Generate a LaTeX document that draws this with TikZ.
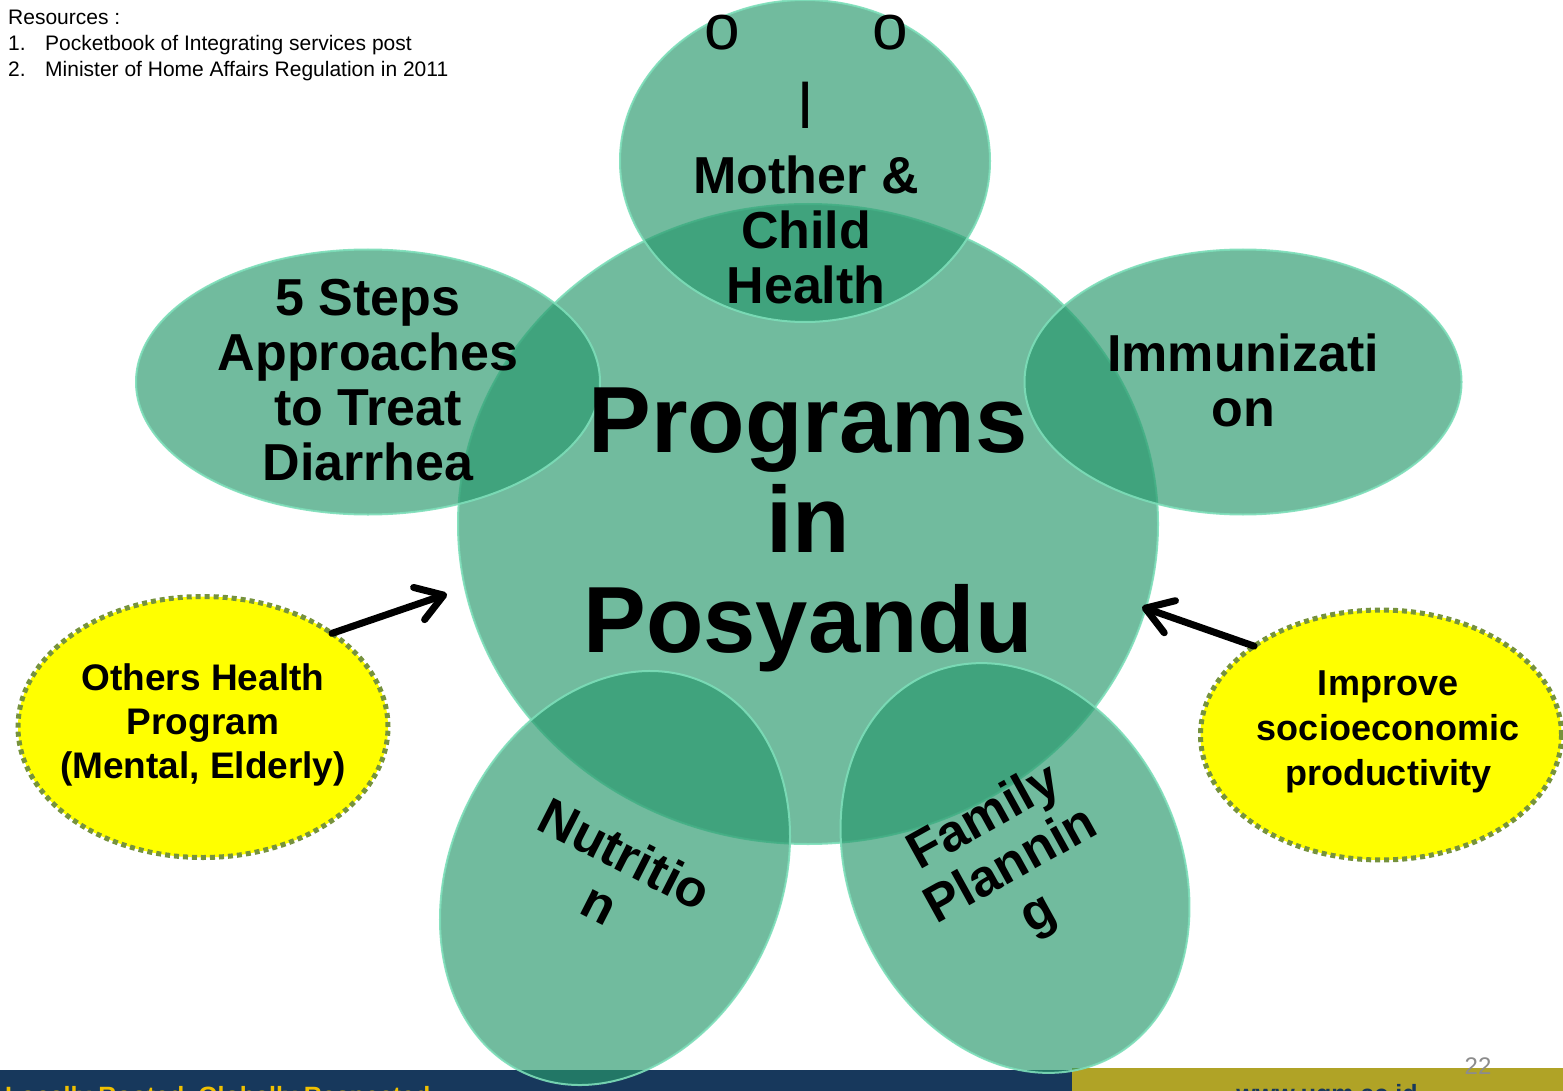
\documentclass[tikz,border=0pt]{standalone}
\usepackage{fontspec}
\setmainfont{Liberation Sans}
\usetikzlibrary{
    shapes.geometric,
    arrows.meta
}
\definecolor{posyandu green}{RGB}{40,152,108}
\definecolor{rim green}{RGB}{125,222,185}
\definecolor{note yellow}{RGB}{255,255,0}
\definecolor{note border}{RGB}{118,146,60}
\definecolor{ugm blue}{RGB}{23,56,92}
\definecolor{ugm gold}{RGB}{176,163,38}
\definecolor{motto yellow}{RGB}{240,192,0}
\definecolor{page gray}{RGB}{140,140,140}
\tikzset{%
    programme/.style={%
        ellipse,
        fill=posyandu green,
        fill opacity=0.66,
        draw=rim green,
        draw opacity=0.9,
        line width=2pt,
        inner sep = 0pt,
        outer sep = 0pt
    },
    side note/.style={%
        ellipse,
        fill=note yellow,
        draw=note border,
        line width=5pt,
        dash pattern=on 5pt off 4pt,
        inner sep = 0pt,
        outer sep = 0pt
    },
    programme text/.style={%
        inner sep = 0pt,
        align=center,
        font=\bfseries\fontsize{52}{55}\selectfont
    },
    note text/.style={%
        inner sep = 0pt,
        align=center,
        font=\bfseries\fontsize{37}{44}\selectfont
    },
    source text/.style={%
        inner sep = 0pt,
        anchor=base west,
        font=\fontsize{21}{26}\selectfont
    },
    push arrow/.style={%
        line width=7pt,
        line cap=round,
        -{Straight Barb[length=26pt, width=34pt, round]}
    },
}

\begin{document}
\begin{tikzpicture}[x=1pt, y=-1pt]
    \clip (0,0) rectangle (1563,1091);
    \fill[white] (0,0) rectangle (1563,1091);

    % footer
    \fill[ugm blue] (0,1070) rectangle (1072,1091);
    \fill[ugm gold] (1072,1068) rectangle (1563,1091);
    \node[inner sep=0pt, anchor=base west, text=motto yellow, font=\bfseries\fontsize{25}{25}\selectfont] (motto) at (5,1104) {Locally Rooted, Globally Respected};
    \node[inner sep=0pt, anchor=base, text=ugm blue, font=\bfseries\fontsize{25}{25}\selectfont] (site) at (1327,1102) {www.ugm.ac.id};
    \node[inner sep=0pt, text=page gray, font=\fontsize{24}{24}\selectfont] (page) at (1478,1066) {22};

    % sources
    \node[source text] (resources) at (8,25) {Resources :};
    \node[source text] (first num) at (8,51) {1.};
    \node[source text] (first src) at (45,51) {Pocketbook of Integrating services post};
    \node[source text] (second num) at (8,77) {2.};
    \node[source text] (second src) at (45,77) {Minister of Home Affairs Regulation in 2011};

    % programmes
    \node[programme, minimum width=700pt, minimum height=640pt] (programs) at (808,524) {};
    \node[programme, minimum width=370pt, minimum height=322pt] (mch) at (805,161) {};
    \node[programme, minimum width=464pt, minimum height=265pt] (diarrhea) at (368,382) {};
    \node[programme, minimum width=437pt, minimum height=265pt] (immunization) at (1243,382) {};
    \node[programme, minimum width=330pt, minimum height=430pt, rotate=-25] (nutrition) at (615,878) {};
    \node[programme, minimum width=330pt, minimum height=425pt, rotate=25] (family) at (1015,868) {};

    \node[programme text, font=\bfseries\fontsize{94}{100}\selectfont] (programs text) at (808,530) {Programs\\in\\Posyandu};
    \node[inner sep=0pt, font=\fontsize{64}{64}\selectfont] (mch o left) at (722,33) {o};
    \node[inner sep=0pt, font=\fontsize{64}{64}\selectfont] (mch o right) at (890,33) {o};
    \node[inner sep=0pt, font=\fontsize{64}{64}\selectfont] (mch l) at (806,105) {l};
    \node[programme text] (mch text) at (806,230) {Mother \&\\Child\\Health};
    \node[programme text] (diarrhea text) at (368,380) {5 Steps\\Approaches\\to Treat\\Diarrhea};
    \node[programme text] (immunization text) at (1243,380) {Immunizati\\on};
    \node[programme text, rotate=-27] (nutrition text) at (613,878) {Nutritio\\n};
    \node[programme text, rotate=29] (family text) at (1012,867) {Family\\Plannin\\g};

    % side notes
    \node[side note, minimum width=370pt, minimum height=261pt] (others) at (203,727) {};
    \node[note text] (others text) at (203,725) {Others Health\\Program\\(Mental, Elderly)};
    \node[side note, minimum width=361pt, minimum height=250pt] (improve) at (1381,735) {};
    \node[note text, font=\bfseries\fontsize{36}{45}\selectfont] (improve text) at (1388,732) {Improve\\socioeconomic\\productivity};

    \coordinate (others tip) at (447,594);
    \coordinate (improve tip) at (1142,607);
    \draw[push arrow] (others.36) -- (others tip);
    \draw[push arrow] (improve.145) -- (improve tip);
\end{tikzpicture}
\end{document}
